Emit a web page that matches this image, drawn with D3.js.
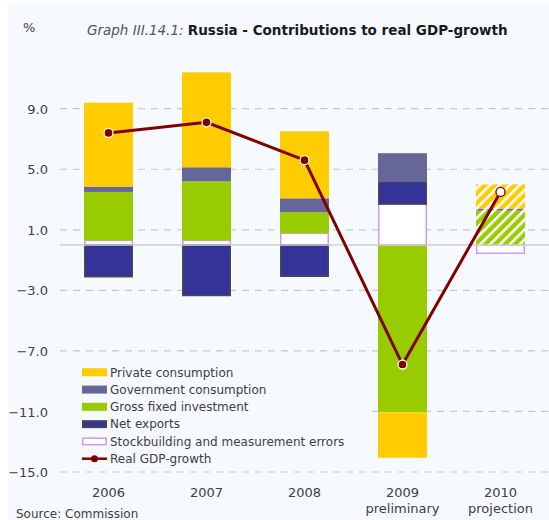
<!DOCTYPE html>
<html>
<head>
<meta charset="utf-8">
<script src="https://cdn.jsdelivr.net/npm/d3@7"></script>
<style>
  html, body { margin: 0; padding: 0; background: #ffffff; }
  svg { display: block; font-family: "DejaVu Sans", sans-serif; }
</style>
</head>
<body>
<svg id="chart" width="549" height="520"></svg>
<script>
// Contributions to real GDP growth, Russia (percentage points)
const years = ["2006", "2007", "2008", "2009", "2010"];
const yearNotes = ["", "", "", "preliminary", "projection"];
const privateConsumption = [5.55, 6.27, 4.43, -3.0, 1.6];
const governmentConsumption = [0.35, 0.93, 0.92, 1.9, 0.13];
const grossFixedInvestment = [3.2, 3.9, 1.39, -11.06, 2.27];
const netExports = [-2.1, -3.34, -2.07, 1.46, 0];
const stockbuilding = [0.3, 0.3, 0.77, 2.7, -0.55];
const gdpGrowth = [7.4, 8.1, 5.6, -7.9, 3.5];
const yTicks = [9, 5, 1, -3, -7, -11, -15];
const projectionYear = "2010";

const series = [
  { key: "stock", label: "Stockbuilding and measurement errors", values: stockbuilding, fill: "#ffffff", stroke: "#cc99ff" },
  { key: "net", label: "Net exports", values: netExports, fill: "#333399", stroke: "#4a4a4a" },
  { key: "gfi", label: "Gross fixed investment", values: grossFixedInvestment, fill: "#99cc00", stroke: "none" },
  { key: "gov", label: "Government consumption", values: governmentConsumption, fill: "#666699", stroke: "none" },
  { key: "priv", label: "Private consumption", values: privateConsumption, fill: "#ffcc00", stroke: "none" }
];
const legendOrder = ["priv", "gov", "gfi", "net", "stock"];

const bg = "#f6faff";
const svg = d3.select("#chart");

// panel
svg.append("rect").attr("x", 8).attr("y", 3).attr("width", 541).attr("height", 517).attr("fill", bg);

const x = d3.scaleBand().domain(years).range([59.5, 549.5]).paddingInner(0.5).paddingOuter(0.25);
const y = d3.scaleLinear().domain([-15, 9]).range([472, 108.7]);

// hatch patterns for the projection year
const defs = svg.append("defs");
series.forEach(s => {
  const p = defs.append("pattern")
    .attr("id", "hatch-" + s.key)
    .attr("patternUnits", "userSpaceOnUse")
    .attr("width", 7).attr("height", 7)
    .attr("patternTransform", "rotate(45)");
  p.append("rect").attr("width", 7).attr("height", 7).attr("fill", s.fill);
  p.append("rect").attr("x", 0).attr("width", 2.6).attr("height", 7).attr("fill", "#ffffff");
});

// gridlines
svg.append("g").selectAll("line").data(yTicks).join("line")
  .attr("x1", 60).attr("x2", 549)
  .attr("y1", d => y(d)).attr("y2", d => y(d))
  .attr("stroke", "#c8c8c8").attr("stroke-width", 1.2)
  .attr("stroke-dasharray", "7,6");

// y axis labels
const yAxis = d3.axisLeft(y).tickValues(yTicks).tickFormat(d3.format(".1f")).tickSize(0).tickPadding(0);
svg.append("g").attr("transform", "translate(48,0)").call(yAxis)
  .call(g => g.select(".domain").remove())
  .call(g => g.selectAll("text")
    .attr("font-family", "DejaVu Sans, sans-serif")
    .attr("font-size", 13).attr("fill", "#404040").attr("dy", "0.35em"));

// stacked bars
const rows = years.map((yr, i) => {
  const r = { year: yr };
  series.forEach(s => { r[s.key] = s.values[i]; });
  return r;
});
const stacked = d3.stack().keys(series.map(s => s.key)).offset(d3.stackOffsetDiverging)(rows);

stacked.forEach((layer, li) => {
  const s = series[li];
  svg.append("g").selectAll("rect").data(layer.filter(d => Math.abs(d[1] - d[0]) > 1e-9)).join("rect")
    .attr("x", d => x(d.data.year) + (s.stroke !== "none" ? 0.75 : 0))
    .attr("width", x.bandwidth() - (s.stroke !== "none" ? 1.5 : 0))
    .attr("y", d => y(Math.max(d[0], d[1])))
    .attr("height", d => Math.abs(y(d[0]) - y(d[1])))
    .attr("fill", d => (d.data.year === projectionYear && s.key !== "stock") ? "url(#hatch-" + s.key + ")" : s.fill)
    .attr("stroke", s.stroke)
    .attr("stroke-width", s.stroke !== "none" ? 1.5 : 0);
});

// zero line
svg.append("line").attr("x1", 60).attr("x2", 549).attr("y1", y(0)).attr("y2", y(0))
  .attr("stroke", "#cfcfcf").attr("stroke-width", 1.5);

// GDP growth line
const cx = (d, i) => x(years[i]) + x.bandwidth() / 2;
svg.append("path").datum(gdpGrowth)
  .attr("d", d3.line().x(cx).y(d => y(d)))
  .attr("fill", "none").attr("stroke", "#800000").attr("stroke-width", 3);
svg.append("g").selectAll("circle").data(gdpGrowth).join("circle")
  .attr("cx", cx).attr("cy", d => y(d)).attr("r", 4.5)
  .attr("fill", (d, i) => years[i] === projectionYear ? "#ffffff" : "#800000")
  .attr("stroke", (d, i) => years[i] === projectionYear ? "#800000" : "#ffffff")
  .attr("stroke-width", 1.3);

// x labels
const xl = svg.append("g").attr("font-size", 13).attr("fill", "#404040").attr("text-anchor", "middle");
years.forEach((yr, i) => {
  const c = x(yr) + x.bandwidth() / 2;
  xl.append("text").attr("x", c).attr("y", 497).text(yr);
  if (yearNotes[i]) xl.append("text").attr("x", c).attr("y", 513).text(yearNotes[i]);
});

// legend
svg.append("rect").attr("x", 60).attr("y", 357).attr("width", 312).attr("height", 111).attr("fill", bg);
const lg = svg.append("g").attr("font-size", 12).attr("fill", "#404040");
const rowY = d3.scalePoint().domain([...legendOrder, "gdp"]).range([372.3, 458.7]);
legendOrder.forEach(k => {
  const s = series.find(t => t.key === k);
  const cy = rowY(k);
  lg.append("rect").attr("x", s.stroke !== "none" ? 82.75 : 82).attr("y", cy - 4 + (s.stroke !== "none" ? 0.75 : 0))
    .attr("width", s.stroke !== "none" ? 23.5 : 25).attr("height", s.stroke !== "none" ? 6.5 : 8)
    .attr("fill", s.fill).attr("stroke", s.stroke).attr("stroke-width", s.stroke !== "none" ? 1.5 : 0);
  lg.append("text").attr("x", 110).attr("y", cy).attr("dy", "0.36em").text(s.label);
});
{
  const cy = rowY("gdp");
  lg.append("line").attr("x1", 82).attr("x2", 107).attr("y1", cy).attr("y2", cy)
    .attr("stroke", "#800000").attr("stroke-width", 2.5);
  lg.append("circle").attr("cx", 94.5).attr("cy", cy).attr("r", 3.5).attr("fill", "#800000");
  lg.append("text").attr("x", 110).attr("y", cy).attr("dy", "0.36em").text("Real GDP-growth");
}

// title and unit
svg.append("text").attr("x", 23).attr("y", 32).attr("font-size", 13).attr("fill", "#404040").text("%");
const title = svg.append("text").attr("x", 87).attr("y", 35).attr("font-size", 13.5);
title.append("tspan").attr("font-style", "italic").attr("fill", "#555555").text("Graph III.14.1: ");
title.append("tspan").attr("font-weight", "bold").attr("fill", "#1a1a1a").text("Russia - Contributions to real GDP-growth");

// source
svg.append("text").attr("x", 16).attr("y", 518).attr("font-size", 12).attr("fill", "#404040").text("Source: Commission");
</script>
</body>
</html>
